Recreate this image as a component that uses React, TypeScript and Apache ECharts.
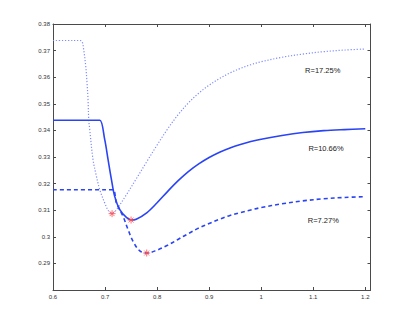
import React, { useEffect, useRef } from "react";
import * as echarts from "echarts";

// R = 17.25% (dotted)
const dottedX = [0.6, 0.64, 0.652, 0.656, 0.659, 0.6629, 0.6654, 0.6673, 0.6687, 0.6706, 0.6769, 0.6835, 0.6898, 0.6994, 0.7065, 0.7135, 0.72, 0.74, 0.76, 0.78, 0.8, 0.82, 0.84, 0.86, 0.88, 0.9, 0.92, 0.94, 0.96, 0.98, 1.0, 1.04, 1.08, 1.12, 1.16, 1.2];
const dottedY = [0.3738, 0.3738, 0.3738, 0.3733, 0.3703, 0.3641, 0.3578, 0.3515, 0.344, 0.3403, 0.329, 0.3227, 0.3177, 0.3127, 0.3098, 0.3088, 0.3097, 0.3155, 0.3218, 0.3282, 0.3345, 0.3405, 0.3458, 0.3503, 0.354, 0.357, 0.3595, 0.3616, 0.3633, 0.3647, 0.3658, 0.3675, 0.3687, 0.3696, 0.3702, 0.3706];

// R = 10.66% (solid)
const solidX = [0.6, 0.68, 0.69, 0.6994, 0.7058, 0.7123, 0.7185, 0.7283, 0.741, 0.75, 0.76, 0.78, 0.8, 0.82, 0.84, 0.86, 0.88, 0.9, 0.92, 0.94, 0.96, 0.98, 1.0, 1.04, 1.08, 1.12, 1.16, 1.2];
const solidY = [0.3438, 0.3438, 0.3438, 0.3365, 0.329, 0.3215, 0.3152, 0.3102, 0.3073, 0.3063, 0.3066, 0.309, 0.3128, 0.317, 0.321, 0.3245, 0.3274, 0.3298, 0.3318, 0.3334, 0.3347, 0.3358, 0.3367, 0.3381, 0.3392, 0.3399, 0.3403, 0.3406];

// R = 7.27% (dashed)
const dashedX = [0.6, 0.7, 0.7154, 0.7219, 0.7346, 0.7442, 0.7538, 0.7667, 0.78, 0.8, 0.82, 0.84, 0.86, 0.88, 0.9, 0.92, 0.94, 0.96, 0.98, 1.0, 1.04, 1.08, 1.12, 1.16, 1.2];
const dashedY = [0.3177, 0.3177, 0.3177, 0.3127, 0.3077, 0.3027, 0.2983, 0.2947, 0.2939, 0.295, 0.2968, 0.299, 0.3012, 0.3033, 0.305, 0.3066, 0.308, 0.3091, 0.3101, 0.311, 0.3124, 0.3135, 0.3143, 0.3148, 0.3151];

// red asterisk markers
const markX = [0.7135, 0.75, 0.78];
const markY = [0.3087, 0.3063, 0.2939];

const xTicks = ["0.6", "0.7", "0.8", "0.9", "1", "1.1", "1.2"];
const yTicks = ["0.29", "0.3", "0.31", "0.32", "0.33", "0.34", "0.35", "0.36", "0.37", "0.38"];

const labels = ["R=17.25%", "R=10.66%", "R=7.27%"];

const pairs = (xs: number[], ys: number[]) => xs.map((x, i) => [x, ys[i]]);

export default function App() {
  const ref = useRef<HTMLDivElement>(null);
  useEffect(() => {
    if (!ref.current) return;
    const chart = echarts.init(ref.current, undefined, { renderer: "svg" });
    const font = "Liberation Sans";
    const axisColor = "#4a4a4a";
    const fmtX = (v: number) => {
      const s = String(parseFloat(v.toFixed(2)));
      return xTicks.includes(s) ? s : "";
    };
    const fmtY = (v: number) => {
      const s = String(parseFloat(v.toFixed(3)));
      return yTicks.includes(s) ? s : "";
    };
    const baseAxis = {
      type: "value" as const,
      axisLine: { show: true, onZero: false, lineStyle: { color: axisColor, width: 1 } },
      axisTick: { show: true, inside: true, length: 3, lineStyle: { color: axisColor } },
      splitLine: { show: false },
    };
    const lineBase = {
      type: "line" as const,
      smooth: 0.35,
      showSymbol: false,
    };
    chart.setOption({
      animation: false,
      backgroundColor: "#ffffff",
      grid: { left: 53, top: 24, right: 38.5, bottom: 37, containLabel: false },
      xAxis: [
        {
          ...baseAxis,
          position: "bottom",
          min: 0.6,
          max: 1.21,
          interval: 0.1,
          axisLabel: { formatter: fmtX, fontSize: 6, fontFamily: font, color: "#333", margin: 4 },
        },
        {
          ...baseAxis,
          position: "top",
          min: 0.6,
          max: 1.21,
          interval: 0.1,
          axisLabel: { show: false },
        },
      ],
      yAxis: [
        {
          ...baseAxis,
          position: "left",
          min: 0.28,
          max: 0.38,
          interval: 0.01,
          axisLabel: { formatter: fmtY, fontSize: 6, fontFamily: font, color: "#333", margin: 3 },
        },
        {
          ...baseAxis,
          position: "right",
          min: 0.28,
          max: 0.38,
          interval: 0.01,
          axisLabel: { show: false },
        },
      ],
      series: [
        {
          ...lineBase,
          data: pairs(dottedX, dottedY),
          lineStyle: { color: "#7f8cff", width: 1.2, type: [1.2, 1.8] },
        },
        {
          ...lineBase,
          data: pairs(solidX, solidY),
          lineStyle: { color: "#2a44f5", width: 1.6 },
        },
        {
          ...lineBase,
          data: pairs(dashedX, dashedY),
          lineStyle: { color: "#2a44f5", width: 1.6, type: [4, 3] },
        },
        {
          type: "scatter",
          data: pairs(markX, markY),
          symbol: "path://M0,-5L0,5M-5,0L5,0M-3.5,-3.5L3.5,3.5M-3.5,3.5L3.5,-3.5",
          symbolSize: 7,
          itemStyle: { color: "none", borderColor: "#ff4d4d", borderWidth: 1 },
          z: 5,
        },
      ],
      graphic: [
        { type: "text", x: 322.7, y: 70, style: { text: labels[0], fontSize: 7.5, fontFamily: font, fill: "#222", align: "center", verticalAlign: "middle" } },
        { type: "text", x: 326, y: 148.3, style: { text: labels[1], fontSize: 7.5, fontFamily: font, fill: "#222", align: "center", verticalAlign: "middle" } },
        { type: "text", x: 323.3, y: 220, style: { text: labels[2], fontSize: 7.5, fontFamily: font, fill: "#222", align: "center", verticalAlign: "middle" } },
      ],
    });
    return () => chart.dispose();
  }, []);
  return (
    <div
      ref={ref}
      style={{ position: "fixed", left: 0, top: 0, width: 409, height: 327, background: "#fff" }}
    />
  );
}
